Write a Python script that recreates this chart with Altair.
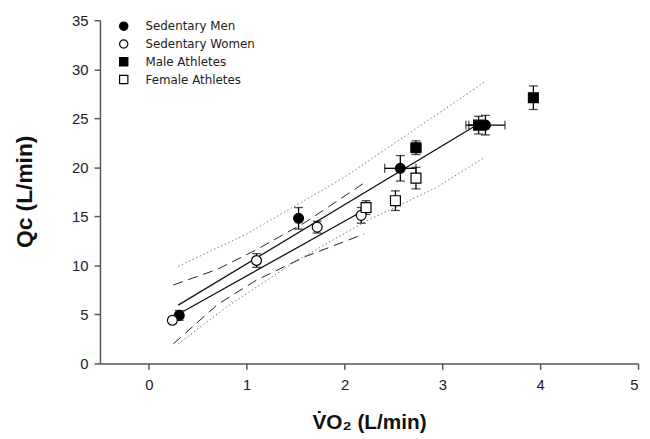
import altair as alt
import pandas as pd

groups = ["Sedentary Men", "Sedentary Women", "Male Athletes", "Female Athletes"]
shapes = ["circle", "circle", "square", "square"]
fills = ["black", "white", "black", "white"]

# Sedentary Men
sm_x = [0.31, 1.53, 2.57, 3.44]
sm_y = [4.9, 14.8, 19.9, 24.3]
sm_yerr = [0.5, 1.1, 1.3, 1.0]
sm_xerr = [0.0, 0.0, 0.16, 0.2]

# Male Athletes
ma_x = [2.73, 3.37, 3.93]
ma_y = [22.0, 24.3, 27.1]
ma_yerr = [0.7, 0.9, 1.2]
ma_xerr = [0.05, 0.1, 0.0]

# Sedentary Women
sw_x = [0.24, 1.10, 1.72, 2.17]
sw_y = [4.4, 10.5, 13.9, 15.1]
sw_yerr = [0.3, 0.7, 0.6, 0.8]
sw_xerr = [0.0, 0.0, 0.0, 0.0]

# Female Athletes
fa_x = [2.22, 2.52, 2.73]
fa_y = [15.9, 16.6, 18.9]
fa_yerr = [0.7, 1.0, 1.1]
fa_xerr = [0.0, 0.0, 0.0]

# regression lines (solid)
fit_a_x = [0.30, 3.38]
fit_a_y = [5.95, 24.5]
fit_b_x = [0.35, 2.25]
fit_b_y = [5.3, 15.9]

# dashed band
ci_hi_x = [0.25, 0.7, 1.1, 1.6, 2.2]
ci_hi_y = [8.0, 9.6, 11.6, 14.4, 18.4]
ci_lo_x = [0.25, 0.7, 1.1, 1.6, 2.2]
ci_lo_y = [2.0, 6.0, 8.5, 10.9, 13.2]

# dotted band
pi_hi_x = [0.3, 1.0, 2.0, 2.93, 3.43]
pi_hi_y = [9.9, 13.2, 19.0, 25.3, 28.7]
pi_lo_x = [0.3, 0.8, 1.48, 2.2, 2.93, 3.43]
pi_lo_y = [2.0, 5.8, 10.3, 14.4, 17.9, 21.0]

x_ticks = [0, 1, 2, 3, 4, 5]
y_ticks = [0, 5, 10, 15, 20, 25, 30, 35]


def grp(name, xs, ys, ye, xe):
    return pd.DataFrame({"group": name, "x": xs, "y": ys, "yerr": ye, "xerr": xe})


pts = pd.concat([
    grp(groups[0], sm_x, sm_y, sm_yerr, sm_xerr),
    grp(groups[2], ma_x, ma_y, ma_yerr, ma_xerr),
    grp(groups[1], sw_x, sw_y, sw_yerr, sw_xerr),
    grp(groups[3], fa_x, fa_y, fa_yerr, fa_xerr),
], ignore_index=True)
pts["ylo"] = pts["y"] - pts["yerr"]
pts["yhi"] = pts["y"] + pts["yerr"]
pts["xlo"] = pts["x"] - pts["xerr"]
pts["xhi"] = pts["x"] + pts["xerr"]
hpts = pts[pts["xerr"] > 0]


def line(name, xs, ys):
    return pd.DataFrame({"series": name, "x": xs, "y": ys})


solid = pd.concat([line("a", fit_a_x, fit_a_y), line("b", fit_b_x, fit_b_y)])
dashed = pd.concat([line("hi", ci_hi_x, ci_hi_y), line("lo", ci_lo_x, ci_lo_y)])
dotted = pd.concat([line("hi", pi_hi_x, pi_hi_y), line("lo", pi_lo_x, pi_lo_y)])

xs = alt.Scale(domain=[-0.5, 5], nice=False, zero=False)
ys = alt.Scale(domain=[0, 35], nice=False)

X = alt.X("x:Q", scale=xs, axis=alt.Axis(
    values=x_ticks, format="d", title="V̇O₂ (L/min)", titleX=272, titleY=60,
    titleBaseline="middle", titleAlign="center", titleFontSize=21))
Y = alt.Y("y:Q", scale=ys, axis=alt.Axis(
    values=y_ticks, format="d", title="Qc (L/min)", titleX=-76, titleY=173,
    titleAngle=-90, titleBaseline="middle", titleAlign="center", titleFontSize=23))

dotted_l = alt.Chart(dotted).mark_line(color="#777", strokeWidth=1, strokeDash=[1.5, 2.5]).encode(
    x=X, y=Y, detail="series:N")
dashed_l = alt.Chart(dashed).mark_line(color="#222", strokeWidth=1, strokeDash=[10, 6]).encode(
    x="x:Q", y="y:Q", detail="series:N")
solid_l = alt.Chart(solid).mark_line(color="#111", strokeWidth=1.3).encode(
    x="x:Q", y="y:Q", detail="series:N")

vbar = alt.Chart(pts).mark_rule(color="black", strokeWidth=1.3).encode(
    x="x:Q", y="ylo:Q", y2="yhi:Q")
vcap_lo = alt.Chart(pts).mark_tick(color="black", orient="horizontal", size=9, thickness=1.3).encode(
    x="x:Q", y="ylo:Q")
vcap_hi = alt.Chart(pts).mark_tick(color="black", orient="horizontal", size=9, thickness=1.3).encode(
    x="x:Q", y="yhi:Q")
hbar = alt.Chart(hpts).mark_rule(color="black", strokeWidth=1.3).encode(
    x="xlo:Q", x2="xhi:Q", y="y:Q")
hcap_lo = alt.Chart(hpts).mark_tick(color="black", orient="vertical", size=9, thickness=1.3).encode(
    x="xlo:Q", y="y:Q")
hcap_hi = alt.Chart(hpts).mark_tick(color="black", orient="vertical", size=9, thickness=1.3).encode(
    x="xhi:Q", y="y:Q")

leg = alt.Legend(title=None, orient="none", legendX=18, legendY=0, padding=0,
                 symbolSize=70, labelFont="DejaVu Sans", labelFontSize=12,
                 labelColor="#222", labelOffset=16, rowPadding=4,
                 symbolStrokeColor="black", symbolStrokeWidth=1.2)

points = alt.Chart(pts).mark_point(filled=True, size=100, strokeWidth=1.2, opacity=1).encode(
    x="x:Q", y="y:Q",
    shape=alt.Shape("group:N", scale=alt.Scale(domain=groups, range=shapes), legend=leg),
    fill=alt.Fill("group:N", scale=alt.Scale(domain=groups, range=fills), legend=leg),
    stroke=alt.Stroke("group:N", scale=alt.Scale(domain=groups, range=["black"] * 4), legend=leg),
)

chart = alt.layer(dotted_l, dashed_l, solid_l, vbar, vcap_lo, vcap_hi, hbar, hcap_lo, hcap_hi, points).properties(
    width=544, height=347,
    autosize=alt.AutoSizeParams(type="none"),
    padding={"left": 93, "top": 10, "right": 4, "bottom": 72},
).configure_view(stroke=None).configure_axis(
    grid=False, domainColor="#555", domainWidth=1.5, tickColor="#555", tickWidth=1.5,
    tickSize=6, labelFont="Liberation Sans", labelFontSize=15, labelColor="#222",
    labelPadding=6, titleFont="Liberation Sans", titleFontWeight="bold",
    titleColor="#111",
).configure_axisX(labelPadding=8)

chart.save("out.html", embed_options={"renderer": "svg", "actions": False})
